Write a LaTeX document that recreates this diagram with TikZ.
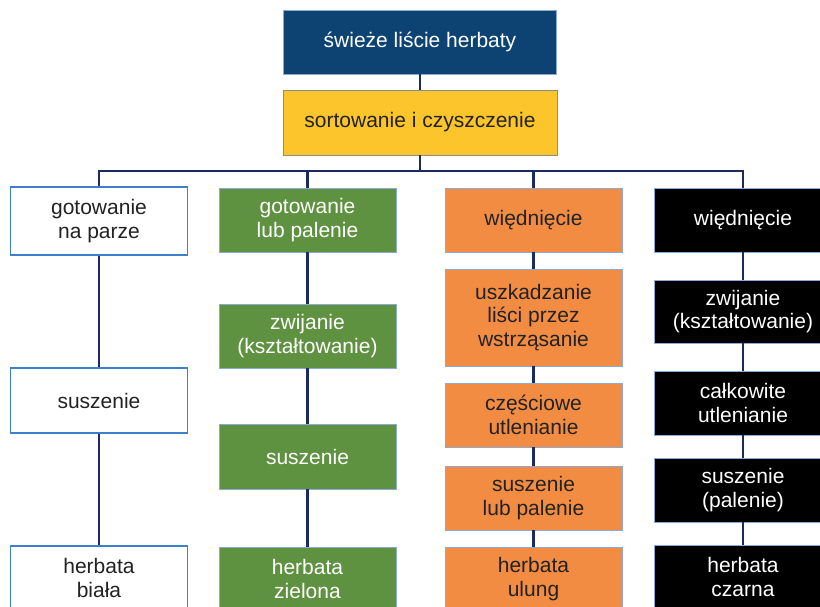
\documentclass[tikz,border=0pt]{standalone}
\usepackage{fontspec}
\setmainfont{Liberation Sans}
\usepackage{tikz}
\definecolor{navy}{HTML}{0C4373}
\definecolor{teayellow}{HTML}{FCC52B}
\definecolor{teagreen}{HTML}{5F9240}
\definecolor{teaorange}{HTML}{F38C43}
\definecolor{edgeblue}{HTML}{8CAAD8}
\definecolor{whiteedge}{HTML}{3E7FCB}
\definecolor{linenavy}{HTML}{1C2B5E}
\definecolor{txt}{HTML}{222222}
\tikzstyle{box}       = [rectangle,inner sep=0pt,align=center,minimum width=177pt,minimum height=64pt,
                         font=\fontsize{21}{23.5}\selectfont,draw=edgeblue,line width=0.8pt]
\tikzstyle{topbox}    = [box,fill=navy,text=white,minimum width=273pt]
\tikzstyle{sortbox}   = [box,fill=teayellow,text=txt,draw=black!45,minimum width=274pt,minimum height=65pt]
\tikzstyle{whitebox}  = [box,fill=white,text=txt,draw=whiteedge,line width=1.6pt]
\tikzstyle{greenbox}  = [box,fill=teagreen,text=white]
\tikzstyle{orangebox} = [box,fill=teaorange,text=txt]
\tikzstyle{blackbox}  = [box,fill=black,text=white]
\tikzstyle{conn}      = [linenavy,line width=2.8pt]

\begin{document}
\begin{tikzpicture}[x=1pt,y=-1pt]
           \clip(0, 0)rectangle(820, 607);
           \node[topbox](top)at(420, 42){świeże liście herbaty};
           \node[sortbox](sort)at(420, 122.5){sortowanie i czyszczenie};
           \coordinate(bus)at(420, 171);
           % biala
           \node[whitebox,minimum height=68pt](a1)at(99, 221){gotowanie\\na parze};
           \node[whitebox,minimum height=65pt](a2)at(99, 400.5){suszenie};
           \node[whitebox](a3)at(99, 578){herbata\\biała};
           % zielona
           \node[greenbox](b1)at(307.5, 220){gotowanie\\lub palenie};
           \node[greenbox](b2)at(307.5, 336){zwijanie\\(kształtowanie)};
           \node[greenbox,minimum height=65pt](b3)at(307.5, 456.5){suszenie};
           \node[greenbox](b4)at(307.5, 579){herbata\\zielona};
           % ulung
           \node[orangebox](c1)at(533.5, 220){więdnięcie};
           \node[orangebox,minimum height=97pt](c2)at(533.5, 317.5){uszkadzanie\\liści przez\\wstrząsanie};
           \node[orangebox](c3)at(533.5, 415){częściowe\\utlenianie};
           \node[orangebox](c4)at(533.5, 498){suszenie\\lub palenie};
           \node[orangebox](c5)at(533.5, 579){herbata\\ulung};
           % czarna
           \node[blackbox](d1)at(743, 220){więdnięcie};
           \node[blackbox,minimum height=63pt](d2)at(743, 311.5){zwijanie\\(kształtowanie)};
           \node[blackbox](d3)at(743, 403){całkowite\\utlenianie};
           \node[blackbox](d4)at(743, 490){suszenie\\(palenie)};
           \node[blackbox](d5)at(743, 577){herbata\\czarna};
           \draw[conn](top)--(sort);
           \draw[conn](sort)--(bus);
           \draw[conn](a1)|-(bus);
           \draw[conn](d1)|-(bus);
           \draw[conn](b1)--(b1|-bus);
           \draw[conn](c1)--(c1|-bus);
           \draw[conn](a1)--(a2);
           \draw[conn](a2)--(a3);
           \draw[conn](b1)--(b2);
           \draw[conn](b2)--(b3);
           \draw[conn](b3)--(b4);
           \draw[conn](c1)--(c2);
           \draw[conn](c2)--(c3);
           \draw[conn](c3)--(c4);
           \draw[conn](c4)--(c5);
           \draw[conn](d1)--(d2);
           \draw[conn](d2)--(d3);
           \draw[conn](d3)--(d4);
           \draw[conn](d4)--(d5);
       \end{tikzpicture}
\end{document}
